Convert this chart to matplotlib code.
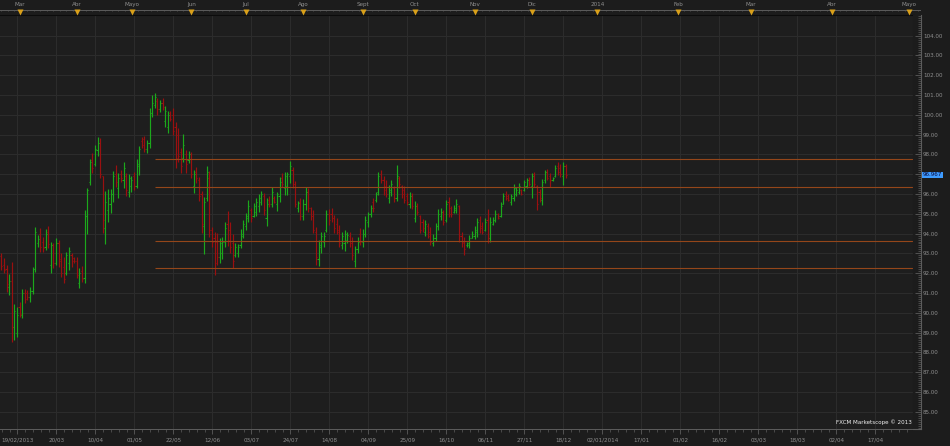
import numpy as np
import matplotlib
matplotlib.use("Agg")
import matplotlib.pyplot as plt
from matplotlib.ticker import MultipleLocator, FixedLocator

# Daily OHLC bars, 19/02/2013 -> 18/12/2013
high = [93.00, 92.75, 92.41, 91.96, 92.58, 90.44, 90.31, 90.56, 91.22, 91.20,
        91.15, 91.28, 92.33, 94.32, 93.91, 94.27, 93.85, 94.22, 94.38, 93.59,
        93.54, 93.80, 93.68, 93.00, 92.83, 93.09, 93.31, 93.00, 92.83, 92.83,
        92.24, 92.36, 95.19, 96.29, 97.75, 98.06, 98.48, 98.90, 98.81, 96.93,
        96.15, 96.25, 96.25, 97.16, 97.47, 97.05, 97.21, 97.60, 97.05, 97.01,
        96.93, 97.10, 97.77, 98.43, 98.90, 98.95, 98.73, 100.33, 101.00, 101.09,
        100.84, 100.75, 100.84, 100.46, 100.19, 100.19, 100.33, 99.66, 99.35, 98.31,
        99.02, 98.22, 98.17, 98.14, 97.21, 97.35, 96.84, 96.17, 95.87, 97.42,
        97.18, 94.35, 94.10, 94.01, 93.76, 93.81, 94.60, 95.14, 94.60, 93.96,
        93.51, 93.47, 94.22, 94.69, 95.06, 95.70, 95.28, 95.56, 95.78, 95.98,
        96.17, 96.07, 95.78, 95.90, 96.37, 95.90, 96.12, 96.88, 97.08, 97.11,
        97.13, 97.69, 97.35, 96.68, 95.66, 95.78, 95.73, 96.34, 96.29, 95.36,
        95.19, 94.32, 93.68, 94.10, 94.10, 95.19, 95.23, 95.28, 94.94, 94.77,
        94.43, 94.10, 94.18, 94.10, 94.10, 93.81, 93.37, 93.81, 94.27, 94.22,
        94.89, 95.11, 95.45, 95.78, 96.12, 97.13, 97.21, 96.91, 96.71, 96.46,
        96.71, 96.40, 97.47, 96.91, 96.46, 96.40, 96.04, 96.12, 96.07, 95.66,
        95.53, 94.94, 94.72, 94.69, 94.52, 94.35, 93.98, 94.55, 95.24, 95.28,
        95.19, 95.70, 95.87, 95.40, 95.45, 95.73, 95.45, 94.10, 93.84, 93.59,
        93.93, 94.15, 94.38, 94.77, 94.89, 94.60, 94.81, 95.23, 94.86, 94.82,
        95.19, 95.02, 95.61, 96.07, 96.17, 96.00, 96.00, 96.51, 96.37, 96.57,
        96.24, 96.71, 96.79, 96.84, 97.05, 97.13, 96.46, 96.24, 96.74, 97.21,
        97.25, 97.08, 96.88, 97.47, 97.64, 97.52, 97.64, 97.52]
low = [92.16, 91.99, 91.07, 90.90, 88.54, 88.62, 88.79, 89.80, 89.72, 90.51,
       90.64, 90.56, 90.93, 92.08, 93.34, 93.09, 93.09, 93.17, 93.26, 92.03,
       92.24, 92.41, 92.33, 91.82, 91.49, 91.91, 92.16, 92.33, 92.50, 91.74,
       91.23, 91.57, 91.49, 93.96, 96.46, 97.05, 97.42, 97.92, 96.79, 94.01,
       93.46, 94.60, 95.02, 95.61, 96.37, 95.82, 96.62, 96.29, 95.92, 95.87,
       96.12, 96.20, 96.32, 96.96, 98.31, 98.14, 98.06, 98.31, 99.91, 100.33,
       99.99, 100.16, 100.25, 99.40, 99.07, 99.69, 98.98, 97.33, 97.60, 97.05,
       97.60, 97.05, 97.55, 96.79, 96.03, 96.57, 95.65, 94.05, 92.97, 95.66,
       93.85, 93.34, 91.91, 92.41, 92.50, 92.70, 93.34, 93.37, 93.00, 92.25,
       92.84, 92.80, 93.26, 93.76, 94.18, 94.60, 94.60, 94.82, 94.89, 95.11,
       95.45, 94.94, 94.38, 95.36, 95.33, 95.53, 95.16, 95.61, 96.37, 95.95,
       95.95, 96.54, 96.29, 95.33, 95.11, 94.69, 94.69, 95.19, 95.11, 94.69,
       94.01, 92.41, 92.36, 93.04, 93.34, 94.10, 94.43, 94.60, 94.05, 93.98,
       93.34, 93.20, 93.14, 93.54, 93.34, 92.67, 92.33, 93.04, 93.42, 93.34,
       93.84, 94.35, 94.82, 95.11, 95.61, 95.95, 96.54, 95.95, 95.87, 95.53,
       95.90, 95.61, 95.66, 96.29, 95.78, 95.53, 95.45, 95.28, 95.23, 94.60,
       94.94, 94.01, 94.10, 93.88, 93.76, 93.42, 93.37, 93.64, 94.18, 94.69,
       94.43, 94.60, 94.86, 94.86, 95.02, 95.06, 93.59, 93.34, 92.92, 93.34,
       93.26, 93.76, 93.71, 93.81, 94.01, 93.98, 94.15, 93.51, 93.59, 94.43,
       94.60, 94.72, 94.86, 95.50, 95.70, 95.66, 95.45, 95.66, 95.90, 96.00,
       95.95, 96.17, 96.29, 96.40, 95.78, 96.37, 95.19, 95.61, 95.45, 96.57,
       96.71, 96.34, 96.68, 96.84, 96.96, 96.88, 96.46, 96.79]
open_ = [92.85, 92.40, 92.20, 91.30, 91.60, 89.30, 89.00, 90.30, 89.90, 91.00,
         91.00, 90.80, 91.10, 92.20, 93.50, 94.00, 93.60, 93.30, 94.10, 92.40,
         93.40, 92.50, 93.50, 92.70, 92.30, 92.00, 92.50, 92.90, 92.75, 92.60,
         91.50, 92.10, 91.75, 94.90, 96.60, 97.70, 97.50, 98.20, 98.60, 96.90,
         94.30, 95.20, 95.50, 96.00, 97.00, 96.30, 97.00, 96.70, 96.90, 96.10,
         96.40, 96.90, 96.40, 97.40, 98.70, 98.80, 98.30, 98.60, 100.10, 100.50,
         100.70, 100.30, 100.60, 99.70, 99.40, 100.10, 100.00, 99.40, 99.00, 98.10,
         97.80, 98.00, 97.70, 98.00, 96.40, 97.10, 96.70, 96.00, 94.40, 95.80,
         96.80, 94.20, 93.80, 93.60, 92.80, 93.00, 93.60, 94.50, 94.20, 93.50,
         92.90, 93.00, 93.40, 93.90, 94.40, 94.80, 95.20, 94.90, 95.10, 95.40,
         95.60, 95.90, 94.80, 95.70, 95.50, 95.80, 95.50, 95.90, 96.80, 96.30,
         96.40, 96.90, 97.20, 96.50, 95.30, 95.60, 94.90, 95.50, 96.10, 95.30,
         94.90, 94.10, 92.70, 93.30, 93.60, 94.20, 95.00, 95.00, 94.80, 94.50,
         94.20, 93.40, 93.50, 93.70, 93.90, 93.50, 92.60, 93.20, 94.00, 93.60,
         94.00, 94.60, 95.00, 95.60, 95.70, 96.10, 97.00, 96.70, 96.40, 95.80,
         96.10, 96.30, 95.80, 96.80, 96.40, 96.20, 95.90, 95.50, 95.90, 94.80,
         95.40, 94.90, 94.60, 94.10, 94.40, 94.10, 93.50, 93.80, 94.40, 94.90,
         95.10, 94.70, 95.60, 95.30, 95.10, 95.20, 95.40, 93.90, 93.60, 93.40,
         93.40, 93.80, 93.90, 94.10, 94.70, 94.40, 94.20, 94.70, 93.80, 94.50,
         94.70, 95.00, 94.90, 95.50, 96.00, 95.90, 95.60, 95.80, 96.00, 96.10,
         96.20, 96.20, 96.40, 96.70, 96.40, 97.00, 96.40, 96.10, 95.70, 96.70,
         97.10, 96.90, 96.70, 96.90, 97.40, 97.30, 96.90, 97.40]
close = [92.35, 92.15, 91.45, 91.60, 89.30, 90.10, 89.90, 89.95, 91.00, 90.70,
         90.80, 91.10, 92.20, 94.10, 93.75, 93.30, 93.25, 94.00, 93.45, 93.40,
         92.50, 93.50, 92.60, 92.00, 91.70, 92.90, 93.10, 92.60, 92.60, 91.90,
         92.00, 91.70, 94.90, 96.20, 97.60, 97.30, 98.30, 98.60, 97.00, 94.70,
         95.60, 95.80, 96.00, 96.90, 96.60, 96.80, 96.80, 97.30, 96.20, 96.80,
         96.70, 96.40, 97.50, 98.30, 98.50, 98.30, 98.60, 100.10, 100.60, 100.90,
         100.30, 100.60, 100.40, 100.20, 100.00, 99.80, 99.20, 97.80, 97.90, 97.40,
         98.50, 97.50, 98.00, 97.00, 97.00, 96.80, 95.90, 94.50, 95.60, 97.10,
         94.20, 93.60, 92.50, 92.80, 93.50, 93.60, 94.30, 93.70, 93.30, 92.60,
         93.30, 93.30, 94.00, 94.50, 94.90, 95.40, 94.80, 95.40, 95.60, 95.80,
         96.00, 95.20, 95.50, 95.50, 96.10, 95.60, 96.00, 96.60, 96.50, 96.90,
         97.00, 97.40, 96.50, 95.50, 95.55, 94.90, 95.50, 96.10, 95.30, 94.90,
         94.20, 92.80, 93.40, 93.90, 93.90, 95.00, 94.70, 94.80, 94.30, 94.10,
         93.50, 93.90, 94.00, 93.95, 93.50, 92.90, 93.20, 93.60, 93.60, 94.00,
         94.70, 95.00, 95.30, 95.30, 96.00, 96.90, 96.70, 96.20, 96.00, 96.20,
         96.50, 95.80, 96.90, 96.50, 96.00, 95.70, 95.60, 95.90, 95.40, 95.40,
         95.10, 94.20, 94.30, 94.50, 93.90, 93.60, 93.80, 94.40, 95.00, 95.10,
         94.60, 95.50, 95.00, 95.00, 95.30, 95.50, 93.90, 93.50, 93.20, 93.50,
         93.80, 94.00, 94.20, 94.60, 94.30, 94.10, 94.60, 93.80, 94.60, 94.70,
         95.00, 94.80, 95.40, 95.90, 95.80, 95.70, 95.90, 96.30, 96.20, 96.40,
         96.00, 96.60, 96.70, 96.50, 96.90, 96.50, 95.50, 95.80, 96.60, 97.10,
         96.80, 96.70, 96.80, 97.30, 97.10, 97.00, 97.40, 96.97]

levels = [97.75, 96.34, 93.63, 92.25]   # horizontal lines drawn from the May top
level_start = 59                        # bar of the 101.09 high
last_price = 96.967

price_ticks = list(range(85, 105))
date_labels = ['19/02/2013', '20/03', '10/04', '01/05', '22/05', '12/06', '03/07',
               '24/07', '14/08', '04/09', '25/09', '16/10', '06/11', '27/11',
               '18/12', '02/01/2014', '17/01', '01/02', '16/02', '03/03',
               '18/03', '02/04', '17/04']
month_labels = ['Mar', 'Abr', 'Mayo', 'Jun', 'Jul', 'Ago', 'Sept', 'Oct', 'Nov',
                'Dic', '2014', 'Feb', 'Mar', 'Abr', 'Mayo']
month_ticks = [7.1, 29.0, 50.2, 73.1, 94.1, 116.2, 139.1, 159.1, 182.0, 204.2,
               229.2, 260.4, 288.4, 319.4, 349.2]

# -------------------------
# Style / layout
# -------------------------
W, H = 950, 446
PX = 2.6                       # pixels per bar
BG = '#1c1c1c'; PANEL = '#1e1e1e'; GRID = '#2d2d2d'
TXT = '#8e8e8e'; AXL = '#5c5c5c'
GREEN = '#1ca81c'; RED = '#9a1010'; LEVEL = '#94461a'; GOLD = '#d9a01a'
FS = 4.1

def box(x0, y0, x1, y1):
    # pixel box -> figure fractions
    return [x0 / W, 1 - y1 / H, (x1 - x0) / W, (y1 - y0) / H]

fig = plt.figure(figsize=(W / 100, H / 100), dpi=100, facecolor=BG)

# --- main price panel ---
ax = fig.add_axes(box(0, 15, 913, 429), facecolor=PANEL)
ax.set_xlim(-0.5, 913 / PX - 0.5)
ylo, yhi = 84.126, 105.046
ax.set_ylim(ylo, yhi)

date_ticks = 6.23 + 15 * np.arange(len(date_labels))
ax.set_xticks(date_ticks)
ax.set_xticklabels(date_labels)
ax.xaxis.set_minor_locator(FixedLocator(np.arange(date_ticks[0] - 15, 351, 3)))
ax.set_yticks(price_ticks)
ax.set_yticklabels([])
ax.grid(True, which='major', color=GRID, lw=0.7)
ax.set_axisbelow(True)
ax.tick_params(axis='y', length=0)
ax.tick_params(axis='x', which='major', direction='out', length=3.5, width=0.6,
               color=AXL, labelsize=FS, labelcolor=TXT, pad=2.6)
ax.tick_params(axis='x', which='minor', direction='out', length=1.8, width=0.5, color=AXL)
ax.spines['left'].set_visible(False)
ax.spines['bottom'].set_color(AXL); ax.spines['bottom'].set_linewidth(0.7)
ax.spines['top'].set_color('#0c0c0c'); ax.spines['right'].set_color('#0c0c0c')

# OHLC bars
x = np.arange(len(high))
o = np.array(open_); c = np.array(close)
colors = np.where(c >= o, GREEN, RED)
ax.vlines(x, low, high, colors=colors, lw=0.85)
ax.hlines(o, x - 0.45, x, colors=colors, lw=0.8)
ax.hlines(c, x, x + 0.45, colors=colors, lw=0.8)

# support / resistance lines
ax.hlines(levels, level_start, 913 / PX, colors=LEVEL, lw=0.8)

ax.text(0.999, 0.017, 'FXCM Marketscope \u00a9 2013', transform=ax.transAxes,
        ha='right', va='center', fontsize=FS, color='#eeeeee')

# --- right price scale ---
rax = fig.add_axes(box(913, 15, 921, 429), facecolor=BG)
rax.set_ylim(ylo, yhi)
rax.set_xticks([])
for s in ['left', 'top']:
    rax.spines[s].set_visible(False)
rax.spines['right'].set_color(AXL); rax.spines['bottom'].set_color(AXL)
rax.yaxis.tick_right()
rax.set_yticks(price_ticks)
# the last-price tag sits on top of the nearest scale label
rax.set_yticklabels(['' if abs(p - last_price) < 0.5 else f'{p:.2f}' for p in price_ticks])
rax.yaxis.set_minor_locator(MultipleLocator(0.1))
rax.tick_params(axis='y', which='major', direction='in', length=4, width=0.6,
                color=AXL, labelsize=FS, labelcolor=TXT, pad=1.5)
rax.tick_params(axis='y', which='minor', direction='in', length=2, width=0.5, color=AXL)
rax.annotate(f'{last_price:.3f}', xy=(1, last_price),
             xycoords=('axes fraction', 'data'), xytext=(1.2, 0),
             textcoords='offset points', ha='left', va='center', fontsize=FS,
             color='#06063a', annotation_clip=False, zorder=5,
             bbox=dict(boxstyle='square,pad=0.12', fc='#3e9cff', ec='none'))

# --- month header ---
hax = fig.add_axes(box(0, 0, 921, 15), facecolor=BG)
hax.set_xlim(-0.5, 921 / PX - 0.5)
hax.set_ylim(15, 0)
hax.axis('off')
hax.axhline(9.5, color=AXL, lw=0.7)
hax.vlines(np.arange(0, 921 / PX, 2.5), 9.5, 11.3, colors=AXL, lw=0.5)
hax.plot(month_ticks, [12] * len(month_ticks), 'v', ms=4.2, color=GOLD, mec='none')
for pos, lab in zip(month_ticks, month_labels):
    hax.text(pos, 4.3, lab, ha='center', va='center', fontsize=FS, color=TXT)

fig.savefig('out.png', dpi=100, facecolor=BG)
